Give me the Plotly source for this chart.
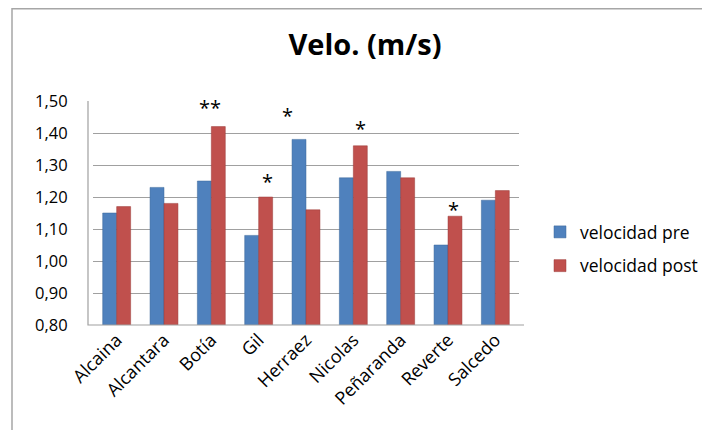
import plotly.graph_objects as go

categories = ["Alcaina", "Alcantara", "Botía", "Gil", "Herraez", "Nicolas", "Peñaranda", "Reverte", "Salcedo"]
vel_pre = [1.15, 1.23, 1.25, 1.08, 1.38, 1.26, 1.28, 1.05, 1.19]
vel_post = [1.17, 1.18, 1.42, 1.20, 1.16, 1.36, 1.26, 1.14, 1.22]
y_ticks = [0.80, 0.90, 1.00, 1.10, 1.20, 1.30, 1.40, 1.50]

# significance marks: (category, text, y value, horizontal offset in px)
sig_cats = ["Botía", "Gil", "Herraez", "Nicolas", "Reverte"]
sig_text = ["**", "*", "*", "*", "*"]
sig_y = [1.48, 1.25, 1.455, 1.415, 1.16]
sig_dx = [-1, 9, -19, 7, 5]

BLUE = "#4F81BD"
RED = "#C0504D"
FONT = "Open Sans"

OFF = 8  # page body margin
W, H = 710 - OFF, 430 - OFF
L, R, T, B = 93 - OFF, 519 - OFF, 101 - OFF, 325 - OFF

def px(x):
    return (x - OFF - L) / (R - L)

def py(y):
    return (B - (y - OFF)) / (B - T)

fig = go.Figure()
fig.add_trace(go.Bar(x=categories, y=vel_pre, name="velocidad pre",
                     marker=dict(color=BLUE, line=dict(color="#3A6699", width=0.5)), legendgroup="a"))
fig.add_trace(go.Bar(x=categories, y=vel_post, name="velocidad post",
                     marker=dict(color=RED, line=dict(color="#9A3A38", width=0.5)), legendgroup="b"))

for c, t, yv, dx in zip(sig_cats, sig_text, sig_y, sig_dx):
    fig.add_annotation(x=c, y=yv, text=t, showarrow=False, xshift=dx,
                       font=dict(family=FONT, size=20, color="#000"))

GRID = "#A0A0A0"
# outer frame (top and left edges visible)
fig.add_shape(type="path", xref="paper", yref="paper",
              path=f"M {px(12)} {py(440)} L {px(12)} {py(8.8)} L {px(720)} {py(8.8)}",
              line=dict(color="#A6A6A6", width=1.5))
# chart wall edge and floor front edge
fig.add_shape(type="path", xref="paper", yref="paper",
              path=f"M {px(88)} {py(101)} L {px(88)} {py(325)} L {px(524)} {py(325)}",
              line=dict(color=GRID, width=1.2))

fig.update_layout(
    width=W, height=H,
    margin=dict(l=L, r=W - R, t=T, b=H - B, autoexpand=False),
    paper_bgcolor="white", plot_bgcolor="white",
    separators=",.",
    barmode="group", bargap=0.41, bargroupgap=0.0,
    title=dict(text="<b>Velo. (m/s)</b>", x=px(365), xanchor="center", xref="paper",
               y=1 - (45 - OFF) / H, yanchor="middle",
               font=dict(family=FONT, size=29, color="#000")),
    font=dict(family=FONT, color="#000"),
    legend=dict(x=px(540), xanchor="left", y=py(249), yanchor="middle",
                font=dict(family=FONT, size=17.5, color="#000"),
                tracegroupgap=8, bgcolor="rgba(0,0,0,0)"),
    xaxis=dict(tickangle=-45, tickfont=dict(family=FONT, size=18, color="#000"),
               showline=False, showgrid=False, ticks="", automargin=False),
    yaxis=dict(range=[0.80, 1.50], tickvals=y_ticks, tickformat=".2f",
               tickfont=dict(family=FONT, size=16.5, color="#000"),
               showgrid=True, gridcolor=GRID, gridwidth=1.2,
               showline=False, automargin=False,
               ticks="outside", ticklen=21, tickcolor="rgba(0,0,0,0)",
               zeroline=False),
)

fig.write_html("out.html")
